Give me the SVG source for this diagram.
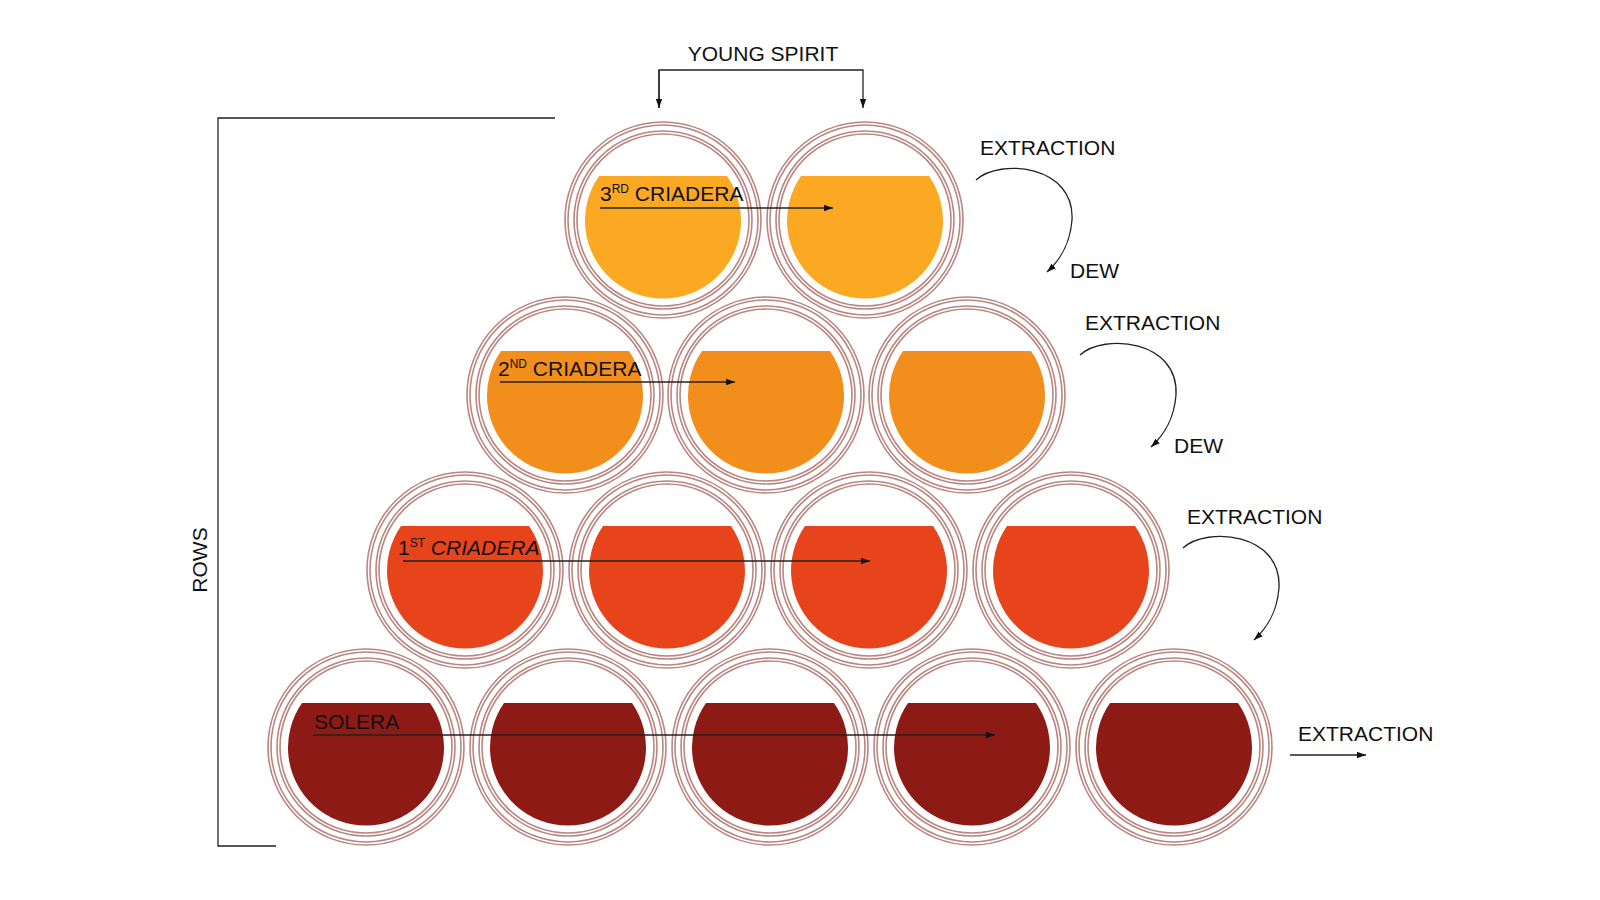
<svg xmlns="http://www.w3.org/2000/svg" width="1600" height="900" viewBox="0 0 1600 900">
<style>
text{font-family:"Liberation Sans",Arial,sans-serif;font-size:21px;fill:#111}
.ring{fill:#fff;stroke:#b98680;stroke-width:1.6}
.ring2{fill:none;stroke:#b98680;stroke-width:1.6}
.ln{fill:none;stroke:#222;stroke-width:1.3}
</style>
<defs>
<marker id="ah" viewBox="0 0 10 10" refX="10" refY="5" markerWidth="9" markerHeight="9" orient="auto" markerUnits="userSpaceOnUse"><path d="M0,1.5L10,5L0,8.5z" fill="#111"/></marker>
<g id="barrel">
<circle class="ring" r="98"/><circle class="ring2" r="95"/><circle class="ring2" r="89"/><circle class="ring2" r="86"/>
</g>
<path id="fill" d="M-64,-44 H64 A78,78 0 1 1 -64,-44 Z"/>
</defs>
<g id="row3-criadera" fill="#FBA823">
<use href="#barrel" x="663" y="220"/><use href="#fill" x="663" y="220"/>
<use href="#barrel" x="865" y="220"/><use href="#fill" x="865" y="220"/>
</g>
<g id="row2-criadera" fill="#F28E1C">
<use href="#barrel" x="565" y="395"/><use href="#fill" x="565" y="395"/>
<use href="#barrel" x="766" y="395"/><use href="#fill" x="766" y="395"/>
<use href="#barrel" x="967" y="395"/><use href="#fill" x="967" y="395"/>
</g>
<g id="row1-criadera" fill="#E8441C">
<use href="#barrel" x="465" y="570"/><use href="#fill" x="465" y="570"/>
<use href="#barrel" x="667" y="570"/><use href="#fill" x="667" y="570"/>
<use href="#barrel" x="869" y="570"/><use href="#fill" x="869" y="570"/>
<use href="#barrel" x="1071" y="570"/><use href="#fill" x="1071" y="570"/>
</g>
<g id="row-solera" fill="#8E1A16">
<use href="#barrel" x="366" y="747"/><use href="#fill" x="366" y="747"/>
<use href="#barrel" x="568" y="747"/><use href="#fill" x="568" y="747"/>
<use href="#barrel" x="770" y="747"/><use href="#fill" x="770" y="747"/>
<use href="#barrel" x="972" y="747"/><use href="#fill" x="972" y="747"/>
<use href="#barrel" x="1174" y="747"/><use href="#fill" x="1174" y="747"/>
</g>
<g id="connectors" class="ln">
<path class="ln" d="M659,108 V70 H863 V108" marker-end="url(#ah)"/>
<path class="ln" d="M659,70 V108" marker-end="url(#ah)"/>
<path class="ln" d="M555,118 H218 V846 H276"/>
<path class="ln" d="M600,208 H833" marker-end="url(#ah)"/>
<path class="ln" d="M500,382 H735" marker-end="url(#ah)"/>
<path class="ln" d="M403,561 H870" marker-end="url(#ah)"/>
<path class="ln" d="M313,735 H995" marker-end="url(#ah)"/>
<path class="ln" d="M1290,755 H1366" marker-end="url(#ah)"/>
<path class="ln" d="M976,180 C1000,158 1075,165 1072,220 C1070,245 1060,260 1047,272" marker-end="url(#ah)"/>
<path class="ln" d="M1080,355 C1104,333 1179,340 1176,395 C1174,420 1164,435 1151,447" marker-end="url(#ah)"/>
<path class="ln" d="M1183,548 C1207,526 1282,533 1279,588 C1277,613 1267,628 1254,640" marker-end="url(#ah)"/>
</g>
<g id="labels">
<text x="763" y="61" text-anchor="middle">YOUNG SPIRIT</text>
<text transform="translate(207,560) rotate(-90)" text-anchor="middle">ROWS</text>
<text x="600" y="201">3<tspan font-size="12" dy="-8">RD</tspan><tspan dy="8"> CRIADERA</tspan></text>
<text x="498" y="376">2<tspan font-size="12" dy="-8">ND</tspan><tspan dy="8"> CRIADERA</tspan></text>
<text x="398" y="555">1<tspan font-size="12" dy="-8">ST</tspan><tspan dy="8" font-style="italic"> CRIADERA</tspan></text>
<text x="314" y="729">SOLERA</text>
<text x="980" y="155">EXTRACTION</text>
<text x="1070" y="278">DEW</text>
<text x="1085" y="330">EXTRACTION</text>
<text x="1174" y="453">DEW</text>
<text x="1187" y="524">EXTRACTION</text>
<text x="1298" y="741">EXTRACTION</text>
</g>
</svg>
